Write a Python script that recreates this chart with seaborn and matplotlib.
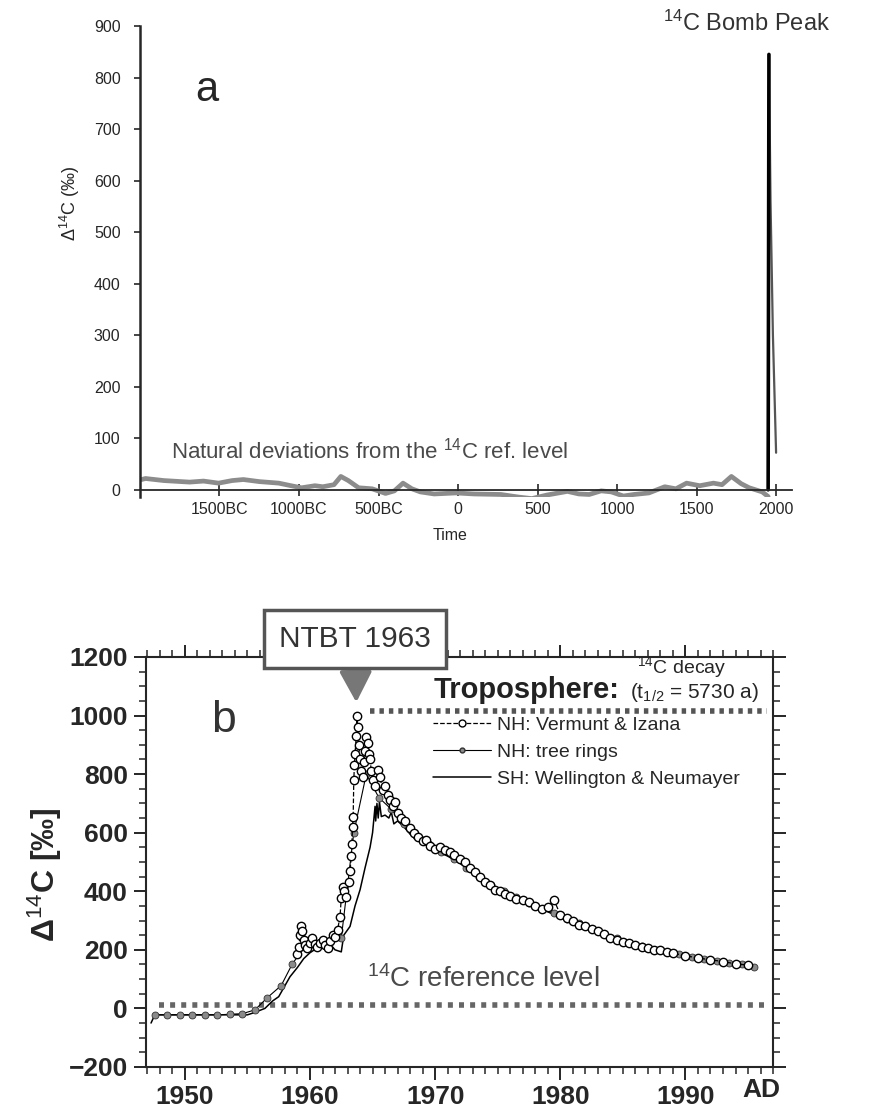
import matplotlib
matplotlib.use("Agg")
import matplotlib.pyplot as plt
from matplotlib.lines import Line2D
from matplotlib.ticker import MultipleLocator
import seaborn as sns

sns.set_style("ticks")
plt.rcParams['font.family'] = ['Liberation Sans', 'DejaVu Sans']
plt.rcParams['mathtext.fontset'] = 'custom'
plt.rcParams['mathtext.rm'] = 'Liberation Sans'
plt.rcParams['mathtext.it'] = 'Liberation Sans:italic'
plt.rcParams['mathtext.bf'] = 'Liberation Sans:bold'

# ---- panel a: natural deviations over 4000 years + bomb peak ----
nat_years = [-1990, -1965, -1850, -1688, -1600, -1506, -1420, -1350, -1250, -1127, -1050, -984,
             -900, -850, -780, -737, -690, -625, -540, -456, -400, -346, -290, -237, -150, -12,
             100, 270, 380, 464, 560, 688, 760, 825, 900, 964, 1040, 1106, 1200, 1300, 1370,
             1437, 1520, 1606, 1660, 1719, 1780, 1831, 1913, 1950]
nat_vals = [20, 22, 18, 15, 17, 13, 18, 20, 16, 13, 8, 4,
            8, 6, 10, 26, 18, 4, 2, -7, -2, 13, 2, -4, -8, -6,
            -8, -9, -14, -17, -10, -3, -8, -9, -2, -4, -12, -9, -6, 6, 2,
            13, 8, 13, 10, 26, 12, 4, -4, -13]
bomb_rise_years = [1950, 1955]
bomb_rise_vals = [0, 845]
bomb_fall_years = [1955, 1965, 1980, 2000]
bomb_fall_vals = [845, 560, 300, 72]

a_xticks = [-1500, -1000, -500, 0, 500, 1000, 1500, 2000]
a_xlabels = ['1500BC', '1000BC', '500BC', '0', '500', '1000', '1500', '2000']
a_yticks = [0, 100, 200, 300, 400, 500, 600, 700, 800, 900]

# ---- panel b: tropospheric bomb 14C ----
vermunt_years = [1959.0, 1959.1, 1959.2, 1959.3, 1959.4, 1959.5, 1959.6, 1959.8, 1960.0, 1960.2,
                 1960.4, 1960.6, 1960.8, 1961.0, 1961.2, 1961.4, 1961.6, 1961.8, 1962.0, 1962.2,
                 1962.4, 1962.5, 1962.6, 1962.7, 1962.9, 1963.1, 1963.2, 1963.3, 1963.35, 1963.4,
                 1963.45, 1963.5, 1963.55, 1963.6, 1963.7, 1963.75, 1963.8, 1963.9, 1964.0, 1964.1,
                 1964.2, 1964.3, 1964.4, 1964.5, 1964.6, 1964.7, 1964.8, 1964.9, 1965.0, 1965.2,
                 1965.4, 1965.6, 1965.8, 1966.0, 1966.2, 1966.4, 1966.6, 1966.8, 1967.0, 1967.3,
                 1967.6, 1968.0, 1968.3, 1968.6, 1969.0, 1969.3, 1969.6, 1970.0, 1970.4, 1970.8,
                 1971.2, 1971.5, 1972.0, 1972.4, 1972.8, 1973.2, 1973.6, 1974.0, 1974.4, 1974.8,
                 1975.2, 1975.6, 1976.0, 1976.5, 1977.0, 1977.5, 1978.0, 1978.5, 1979.0, 1979.5,
                 1980.0, 1980.5, 1981.0, 1981.5, 1982.0, 1982.5, 1983.0, 1983.5, 1984.0, 1984.5,
                 1985.0, 1985.5, 1986.0, 1986.5, 1987.0, 1987.5, 1988.0, 1988.5, 1989.0, 1990.0,
                 1991.0, 1992.0, 1993.0, 1994.0, 1995.0]
vermunt_vals = [185, 210, 250, 280, 265, 235, 215, 205, 225, 240,
                220, 210, 225, 235, 215, 205, 230, 250, 245, 268,
                313, 378, 415, 400, 380, 430, 470, 520, 560, 620,
                654, 780, 830, 870, 930, 1000, 960, 900, 850, 810,
                790, 840, 880, 927, 905, 870, 850, 810, 780, 760,
                815, 790, 745, 760, 730, 712, 690, 705, 668, 650,
                640, 615, 600, 585, 570, 575, 556, 545, 552, 540,
                535, 525, 510, 500, 478, 465, 450, 430, 420, 405,
                400, 390, 385, 375, 370, 365, 350, 340, 345, 370,
                320, 310, 300, 285, 280, 270, 265, 255, 240, 235,
                228, 222, 215, 210, 205, 200, 198, 192, 188, 180,
                172, 166, 160, 152, 148]

tree_years = [1947.6, 1948.6, 1949.6, 1950.6, 1951.6, 1952.6, 1953.6, 1954.6, 1955.6, 1956.6,
              1957.7, 1958.6, 1959.6, 1960.5, 1961.5, 1962.5, 1963.5, 1964.5, 1965.5, 1966.5,
              1967.5, 1968.5, 1969.5, 1970.5, 1971.5, 1972.5, 1973.5, 1974.5, 1975.5, 1976.5,
              1977.5, 1978.5, 1979.5, 1980.5, 1981.5, 1982.5, 1983.5, 1984.5, 1985.5, 1986.5,
              1987.5, 1988.5, 1989.5, 1990.5, 1991.5, 1992.5, 1993.5, 1994.5, 1995.5]
tree_vals = [-22, -22, -22, -22, -22, -22, -20, -18, -5, 37,
             78, 153, 210, 215, 220, 240, 600, 800, 720, 680,
             630, 590, 560, 535, 510, 480, 450, 420, 400, 380,
             360, 340, 325, 305, 290, 272, 255, 240, 225, 212,
             200, 192, 185, 175, 168, 162, 155, 150, 143]

sh_years = [1947.3, 1947.6, 1955.0, 1955.5, 1956.4, 1957.0, 1957.5, 1958.4, 1959.0, 1959.5,
            1960.0, 1960.7, 1961.2, 1961.7, 1962.0, 1962.5, 1962.7, 1963.2, 1963.6, 1964.0,
            1964.4, 1964.8, 1965.0, 1965.2, 1965.25, 1965.35, 1965.45, 1965.55, 1965.7, 1966.0,
            1966.3, 1966.5, 1966.7, 1967.0, 1967.5, 1968, 1969, 1970, 1971, 1972,
            1973, 1974, 1975, 1976, 1977, 1978, 1979, 1980, 1981, 1982,
            1983, 1984, 1985, 1986, 1987, 1988, 1989, 1990, 1991, 1992,
            1993, 1994, 1995]
sh_vals = [-50, -22, -22, -15, 0, 25, 40, 108, 140, 170,
           190, 210, 205, 215, 200, 193, 250, 280, 350, 405,
           480, 550, 600, 690, 640, 700, 650, 705, 655, 660,
           650, 670, 630, 640, 620, 595, 565, 540, 520, 495,
           465, 435, 410, 385, 365, 345, 330, 310, 290, 275,
           258, 243, 230, 218, 205, 195, 187, 178, 170, 163,
           157, 150, 145]

ref_level = 12
ref_span = [1947.9, 1996.5]
tropo_level = 1015
tropo_span = [1964.8, 1996.5]

b_xticks = [1950, 1960, 1970, 1980, 1990]
b_yticks = [-200, 0, 200, 400, 600, 800, 1000, 1200]

fig = plt.figure(figsize=(8.76, 11.09), dpi=100)

# ================= panel a =================
ax = fig.add_axes([0.1598, 0.5518, 0.7443, 0.4247])
sns.lineplot(x=nat_years, y=nat_vals, ax=ax, color='#8c8c8c', lw=3.4, estimator=None)
sns.lineplot(x=bomb_fall_years, y=bomb_fall_vals, ax=ax, color='#555555', lw=1.6, estimator=None)
sns.lineplot(x=bomb_rise_years, y=bomb_rise_vals, ax=ax, color='black', lw=2.6, estimator=None)
ax.set_xlim(-2000, 2100)
ax.set_ylim(-14, 900)
ax.spines['top'].set_visible(False)
ax.spines['right'].set_visible(False)
ax.spines['bottom'].set_position(('data', 0))
ax.spines['left'].set_linewidth(1.8)
ax.spines['bottom'].set_linewidth(1.3)
ax.set_xticks(a_xticks)
ax.set_xticklabels(a_xlabels)
ax.set_yticks(a_yticks)
ax.tick_params(axis='x', direction='inout', length=9, width=1.2, labelsize=11.5, pad=4)
ax.tick_params(axis='y', direction='out', length=4, width=1.2, labelsize=11.5, pad=10)
ax.set_xlabel('')
ax.set_ylabel('')
ax.text(0.103, 0.864, 'a', transform=ax.transAxes, fontsize=30, ha='center', va='center')
ax.text(0.048, 0.098, 'Natural deviations from the $^{14}$C ref. level', transform=ax.transAxes,
        fontsize=16, color='#4a4a4a', ha='left', va='center')
fig.text(70 / 876, 1 - 203 / 1109, 'Δ$^{14}$C (‰)', rotation=90, fontsize=13,
         ha='center', va='center')
fig.text(450 / 876, 1 - 535 / 1109, 'Time', fontsize=11.5, ha='center', va='center')
fig.text(663 / 876, 1 - 23 / 1109, '$^{14}$C Bomb Peak', fontsize=17, color='#333333',
         ha='left', va='center')

# ================= panel b =================
bx = fig.add_axes([0.1667, 0.0379, 0.7158, 0.3697])
bx.plot(ref_span, [ref_level, ref_level], ls=(0, (0.9, 1.1)), lw=4, color='#666666')
bx.plot(tropo_span, [tropo_level, tropo_level], ls=(0, (0.8, 0.9)), lw=4, color='#555555')
sns.lineplot(x=sh_years, y=sh_vals, ax=bx, color='black', lw=1.1, estimator=None)
sns.lineplot(x=tree_years, y=tree_vals, ax=bx, color='black', lw=0.8, estimator=None,
             marker='o', markersize=5, markerfacecolor='#8a8a8a', markeredgecolor='#333333',
             markeredgewidth=0.6)
sns.lineplot(x=vermunt_years, y=vermunt_vals, ax=bx, color='black', lw=0.9, ls='--',
             estimator=None, marker='o', markersize=6, markerfacecolor='white',
             markeredgecolor='black', markeredgewidth=1.0)
bx.set_xlim(1946.9, 1997)
bx.set_ylim(-200, 1200)
for s in bx.spines.values():
    s.set_linewidth(1.5)
bx.set_xticks(b_xticks)
bx.set_yticks(b_yticks)
bx.xaxis.set_minor_locator(MultipleLocator(1))
bx.yaxis.set_minor_locator(MultipleLocator(50))
bx.tick_params(which='major', direction='out', length=9, width=1.4, labelsize=19,
               top=True, right=True, labeltop=False, labelright=False, pad=4)
bx.tick_params(which='minor', direction='out', length=5, width=1.1,
               top=True, right=True)
for lab in bx.get_xticklabels() + bx.get_yticklabels():
    lab.set_fontweight('bold')
bx.set_xlabel('')
bx.set_ylabel('')
bx.text(1996.1, -278, 'AD', fontsize=19, fontweight='bold', ha='center', va='center')

fig.text(45 / 876, 1 - 875 / 1109, 'Δ$^{14}$C [‰]', rotation=90, fontsize=23,
         fontweight='bold', ha='center', va='center')
bx.text(0.123, 0.846, 'b', transform=bx.transAxes, fontsize=32, ha='center', va='center',
        color='#333333')
bx.text(0.352, 0.195, '$^{14}$C reference level', transform=bx.transAxes, fontsize=20,
        color='#4a4a4a', ha='left', va='baseline')
bx.text(0.458, 0.9, 'Troposphere:', transform=bx.transAxes, fontsize=21, fontweight='bold',
        ha='left', va='baseline', color='#222222')
bx.text(0.772, 0.9, '(t$_{1/2}$ = 5730 a)', transform=bx.transAxes, fontsize=15,
        ha='left', va='baseline')
bx.text(0.783, 0.961, '$^{14}$C decay', transform=bx.transAxes, fontsize=14,
        ha='left', va='baseline')

handles = [
    Line2D([], [], color='black', lw=0.9, ls='--', marker='o', markersize=5,
           markerfacecolor='white', markeredgecolor='black'),
    Line2D([], [], color='black', lw=0.8, ls='-', marker='o', markersize=3.5,
           markerfacecolor='#8a8a8a', markeredgecolor='#333333'),
    Line2D([], [], color='black', lw=1.1, ls='-'),
]
labels = ['NH: Vermunt & Izana', 'NH: tree rings', 'SH: Wellington & Neumayer']
leg = bx.legend(handles, labels, loc='upper left', bbox_to_anchor=(0.445, 0.875),
                frameon=False, fontsize=14, handlelength=3.0, handletextpad=0.3,
                labelspacing=0.5, borderaxespad=0)

bx.annotate('NTBT 1963', xy=(1963.7, 1045), xytext=(1963.6, 1261), textcoords='data',
            fontsize=21.5, ha='center', va='center', color='#333333', zorder=6,
            annotation_clip=False,
            bbox=dict(boxstyle='square,pad=0.5', fc='white', ec='#555555', lw=2.5),
            arrowprops=dict(arrowstyle='-|>,head_width=0.45,head_length=0.85', lw=3,
                            color='#777777', shrinkA=0, shrinkB=0, mutation_scale=22))

fig.savefig('out.png', dpi=100)
